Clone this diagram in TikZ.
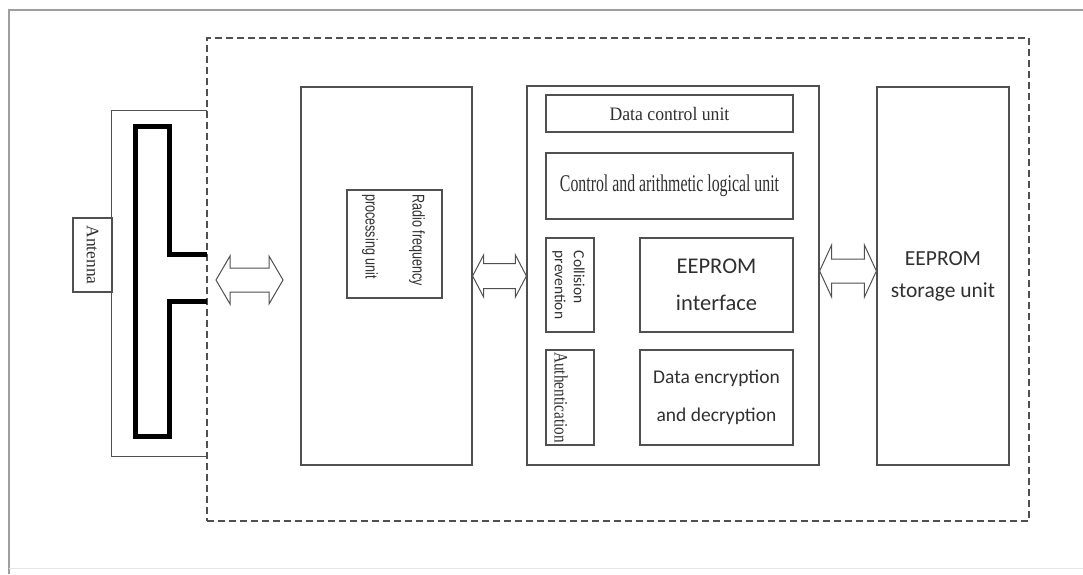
\documentclass[tikz,border=0pt]{standalone}
\usepackage{fontspec}
\setmainfont{Liberation Serif}
\newfontfamily\calfont{Carlito}
\newfontfamily\lsansfont{Liberation Sans}
\usetikzlibrary{calc}
\definecolor{ln}{HTML}{505050}
\definecolor{tx}{HTML}{303030}
\tikzset{
  box/.style={draw=ln, line width=1.2pt, rectangle, inner sep=0pt, text=tx},
  plain/.style={rectangle, inner sep=0pt, text=tx},
  dbl/.style n args={3}{draw=ln, line width=1pt, fill=white, line join=miter,
    to path={let \p1=(\tikztostart), \p2=(\tikztotarget) in
      (\x1,\y1) -- (\x1+#1,\y1+#2) -- (\x1+#1,\y1+#3) -- (\x2-#1,\y2+#3) -- (\x2-#1,\y2+#2)
      -- (\x2,\y2) -- (\x2-#1,\y2-#2) -- (\x2-#1,\y2-#3) -- (\x1+#1,\y1-#3) -- (\x1+#1,\y1-#2) -- cycle}},
  rot/.style={rotate=-90}
}
\begin{document}
\begin{tikzpicture}[x=1pt,y=-1pt]
\useasboundingbox (0,0) rectangle (1083,574);
% outer frame
\draw[color=black!38, line width=2.4pt] (1083,10) -- (9,10) -- (9,574);
\draw[color=black!10, line width=1pt] (9,568) -- (1083,568);
% dashed tag boundary
\node[plain, draw=ln, line width=1.1pt, dash pattern=on 7pt off 4pt, minimum width=822pt, minimum height=483pt] (tag) at (618,279.5) {};
% antenna frame (open on the right)
\node[plain, minimum width=95pt, minimum height=345pt] (antf) at (159.5,283.5) {};
\draw[ln, line width=1.2pt] (antf.north east) -- (antf.north west) -- (antf.south west) -- (antf.south east);
% antenna coil
\draw[black, line width=5pt, line join=miter] (207,254) -- (169,254) -- (169,126) -- (135,126) -- (135,436) -- (169,436) -- (169,301) -- (207,301);
% antenna label
\node[box, fill=white, minimum width=39pt, minimum height=74pt] (antl) at (92.5,255) {};
\node[plain, rot, font=\fontsize{17.5}{20}\selectfont] (antt) at (antl.center) {Antenna};
% RF unit
\node[box, minimum width=171pt, minimum height=378pt] (rf) at (386.5,276) {};
\node[box, minimum width=95pt, minimum height=108pt] (rfin) at (394.5,244) {};
\node[plain, rot, font=\lsansfont\fontsize{17}{20}\selectfont] (rft) at (393,240) {\scalebox{0.74}[1]{\begin{tabular}{@{}l@{}}Radio frequency\\[27pt]processing unit\end{tabular}}};
% central unit
\node[box, minimum width=292pt, minimum height=379pt] (cpu) at (673,275.5) {};
\node[box, minimum width=247pt, minimum height=37pt, font=\fontsize{19}{22}\selectfont] (dcu) at (669.5,113.5) {\scalebox{0.93}[1]{Data control unit}};
\node[box, minimum width=247pt, minimum height=66pt, font=\fontsize{24}{28}\selectfont] (alu) at (669.5,186) {\scalebox{0.66}[1]{Control and arithmetic logical unit}};
\node[box, minimum width=48pt, minimum height=94pt] (col) at (570,285) {};
\node[plain, rot, align=left, font=\calfont\fontsize{15.5}{19}\selectfont] (colt) at (568.5,285) {Collision\\prevention};
\node[box, minimum width=153pt, minimum height=94pt, align=center, font=\calfont\fontsize{22.5}{37}\selectfont] (eei) at (716.5,285) {EEPROM\\interface};
\node[box, minimum width=48pt, minimum height=95pt] (auth) at (570,397.5) {};
\node[plain, rot, font=\fontsize{19}{22}\selectfont] (autht) at (561,397.5) {\scalebox{0.8}[1]{Authentication}};
\node[box, minimum width=153pt, minimum height=95pt, align=center, font=\calfont\fontsize{19.5}{38}\selectfont] (enc) at (716.5,397.5) {Data encryption\\and decryption};
% storage
\node[box, minimum width=132pt, minimum height=378pt, align=center, font=\calfont\fontsize{21.5}{32}\selectfont] (store) at (943,276) {EEPROM\\storage unit};
% double arrows
\coordinate (a1s) at (216,280);
\coordinate (a1e) at (283,280);
\coordinate (y2) at (0,276);
\coordinate (y3) at (0,271);
\draw[dbl={14pt}{24pt}{12pt}] (a1s) to (a1e);
\draw[dbl={11pt}{21pt}{12.5pt}] (rf.east |- y2) to (cpu.west |- y2);
\draw[dbl={12pt}{26pt}{12pt}] (cpu.east |- y3) to (store.west |- y3);
\end{tikzpicture}
\end{document}
